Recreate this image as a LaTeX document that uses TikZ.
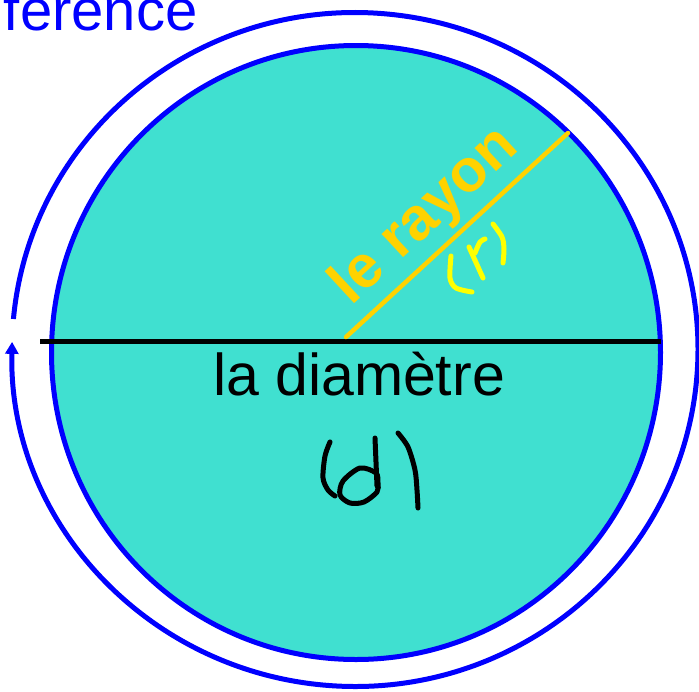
\documentclass[tikz,border=0pt]{standalone}
\usepackage{fontspec}
\setmainfont{Liberation Sans}
\usetikzlibrary{arrows.meta}
\definecolor{turq}{RGB}{64,224,208}
\definecolor{myblue}{RGB}{0,0,255}
\definecolor{mygold}{RGB}{255,210,0}
\definecolor{myyellow}{RGB}{255,255,0}
\tikzset{
  circline/.style={draw=myblue, line width=5pt},
  hand/.style={line width=5pt, line cap=round, line join=round},
  lbl/.style={inner sep=0pt, outer sep=0pt}
}
\begin{document}
\begin{tikzpicture}[x=1pt,y=-1pt]
\useasboundingbox (0,0) rectangle (699,691);
% inner filled circle
\coordinate (c) at (356,352.5);
\filldraw[fill=turq, circline] (c) ellipse [x radius=304.5, y radius=307];
% outer circumference arc with arrow
\coordinate (oc) at (355,349.5);
\draw[circline, -{Triangle[width=13pt,length=12pt]}]
  ([shift={(185.2:343 and 337)}]oc) arc [start angle=185.2, end angle=541.3, x radius=343, y radius=337];
% diameter
\coordinate (dl) at (40,341);
\coordinate (dr) at (661,341);
\draw[line width=5pt] (dl) -- (dr);
% radius
\coordinate (r0) at (346,337);
\coordinate (r1) at (568,133);
\draw[mygold, line width=4.5pt, line cap=round] (r0) -- (r1);
% labels
\node[lbl, anchor=base, font=\fontsize{59}{59}\selectfont] (diam) at (359,395) {la diamètre};
\node[lbl, anchor=base, rotate=42.8, text=mygold, font=\fontsize{60}{60}\selectfont\bfseries] (ray) at (436,228) {le rayon};
\node[lbl, anchor=base west, text=myblue, font=\fontsize{58}{58}\selectfont] (circ) at (4,30) {ference};
% handwritten (d)
\draw[hand] plot[smooth] coordinates {(330,442) (325,456) (323,478) (328,490) (335,496)};
\draw[hand] (375,438) -- (377,486);
\draw[hand] plot[smooth cycle] coordinates {(376,473) (360,468) (343,481) (340,495) (350,503) (364,502) (377,492) (378,483)};
\draw[hand] plot[smooth] coordinates {(398,433) (408,447) (415,470) (417,490) (418,508)};
% handwritten (r)
\draw[hand, myyellow] plot[smooth] coordinates {(451,256) (450,278) (456,288) (472,292)};
\draw[hand, myyellow] (469,247) -- (483,278);
\draw[hand, myyellow] plot[smooth] coordinates {(475,253) (480,242) (485,239)};
\draw[hand, myyellow] plot[smooth] coordinates {(493,224) (502,237) (504,249) (503,263)};
\end{tikzpicture}
\end{document}
